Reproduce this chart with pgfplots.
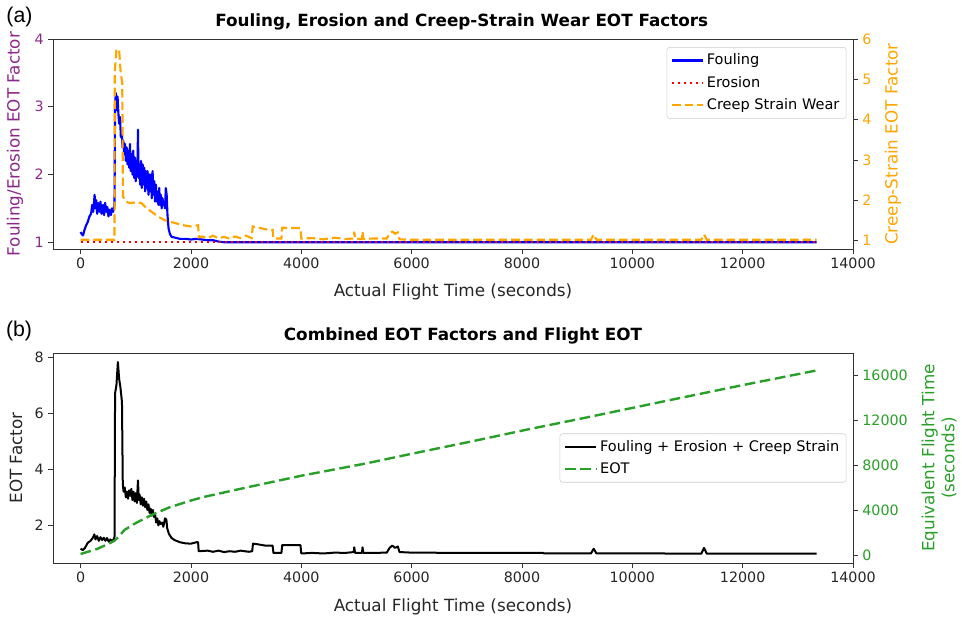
\documentclass[border=0pt]{standalone}
\usepackage{pgfplots}
\pgfplotsset{compat=1.18}
\usepackage{fontspec}
\setmainfont{DejaVu Sans}
\newfontfamily\panelfont{Liberation Sans}
\definecolor{mplorange}{HTML}{FFA500}
\definecolor{fepurple}{RGB}{140,40,140}
\definecolor{eotgreen}{RGB}{40,160,40}
\definecolor{mplblue}{HTML}{0000FF}
\definecolor{mplred}{HTML}{FF0000}

\pgfplotsset{
  twinbase/.style={
    scale only axis, width=600pt, height=157.5pt,
    xmin=-500, xmax=14000,
    scaled x ticks=false, scaled y ticks=false,
    tick align=outside, major tick length=3.5pt,
    /pgf/number format/assume math mode=true,
    /pgf/number format/1000 sep={},
    tick label style={font=\fontsize{10.7}{12}\selectfont, color=black!85},
    label style={font=\fontsize{12.6}{15}\selectfont, color=black!85},
    title style={font=\fontsize{12.6}{15}\selectfont\bfseries, anchor=center, yshift=0pt},
    axis line style={black!80, line width=0.6pt},
    every tick/.style={black!80, line width=0.6pt},
    legend cell align=left,
    legend image code/.code={\draw[##1] (0cm,0cm) -- (0.82cm,0cm);},
  },
}

\begin{document}
\begin{tikzpicture}
\useasboundingbox (0,0) rectangle (721.5pt,-464.25pt);

% ---------------- Panel (a) ----------------
\begin{axis}[twinbase, at={(39.75pt,-29.25pt)}, anchor=north west,
  ymin=0.9, ymax=4.0, ytick={1,2,3,4},
  xtick={0,2000,...,14000},
  xtick pos=left, ytick pos=left,
  xlabel={Actual Flight Time (seconds)},
  xlabel style={at={(axis description cs:0.5,-0.2048)}, anchor=center},
  ylabel={Fouling/Erosion EOT Factor},
  ylabel style={at={(axis description cs:-0.0475,0.5)}, anchor=center, color=fepurple},
  yticklabel style={color=fepurple},
  title={Fouling, Erosion and Creep-Strain Wear EOT Factors},
  title style={at={(axis description cs:0.511,1.043)}},
]
\addplot[mplblue, line width=1.6pt, line join=round] coordinates {
(0,1.15) (20,1.12) (45,1.10) (70,1.18) (100,1.25) (130,1.30) (160,1.38) (190,1.42)
(210,1.55) (230,1.45) (254,1.70) (270,1.50) (284,1.62) (300,1.42) (320,1.58) (344,1.45)
(360,1.60) (380,1.42) (405,1.55) (425,1.40) (445,1.58) (465,1.45) (485,1.52) (505,1.38)
(526,1.48) (550,1.40) (570,1.50) (590,1.45) (605,1.50) (615,1.55) (625,3.05) (640,3.20)
(655,2.95) (670,3.15) (685,2.90) (700,2.75) (715,2.85) (730,2.55) (745,2.65) (760,2.40)
(775,2.50) (790,2.30) (805,2.45) (820,2.20) (835,2.40) (850,2.15) (865,2.35) (880,2.10)
(895,2.45) (910,2.05) (925,2.30) (940,2.00) (955,2.35) (970,1.95) (985,2.25) (1000,1.90)
(1015,2.20) (1030,2.00) (1040,2.66) (1050,1.95) (1065,2.15) (1080,1.85) (1095,2.20) (1110,1.80)
(1125,2.15) (1140,1.85) (1155,2.10) (1170,1.75) (1185,2.05) (1200,1.80) (1215,2.05) (1230,1.70)
(1245,2.00) (1260,1.75) (1275,2.00) (1290,1.65) (1305,2.05) (1320,1.70) (1335,1.90) (1350,1.60)
(1365,1.85) (1380,1.60) (1395,1.75) (1410,1.55) (1425,1.80) (1440,1.55) (1455,1.70) (1470,1.50)
(1485,1.65) (1500,1.55) (1515,1.60) (1530,1.50) (1545,1.80) (1560,1.70) (1575,1.40) (1595,1.20)
(1620,1.12) (1650,1.08) (1700,1.07) (1750,1.06) (1800,1.05) (1900,1.05) (2000,1.04) (2100,1.05)
(2200,1.04) (2300,1.03) (2400,1.03) (2500,1.01) (2600,1.00) (13340,1.00)
};
\addplot[mplred, line width=1.5pt, dash pattern=on 1.5pt off 3pt] coordinates {
(0,1.0) (13340,1.0)
};
\end{axis}

\begin{axis}[twinbase, at={(39.75pt,-29.25pt)}, anchor=north west,
  axis x line=none, axis y line*=right,
  ymin=0.79, ymax=6, ytick={1,2,3,4,5,6},
  ylabel={Creep-Strain EOT Factor},
  ylabel style={at={(axis description cs:1.05,0.5)}, anchor=center, color=mplorange},
  yticklabel style={color=mplorange},
  legend style={at={(1,1)}, anchor=north east, xshift=-5pt, yshift=-6pt,
    draw=black!20, rounded corners=2pt, fill=white, fill opacity=0.8, text opacity=1,
    font=\fontsize{10.9}{12}\selectfont, row sep=3pt, inner sep=3pt},
]
\addlegendimage{mplblue, line width=1.6pt}
\addlegendentry{Fouling}
\addlegendimage{mplred, line width=1.5pt, dash pattern=on 1.5pt off 3pt}
\addlegendentry{Erosion}
\addplot[mplorange, line width=1.6pt, dash pattern=on 6.5pt off 3pt] coordinates {
(0,1.02) (615,1.02) (620,5.2) (650,5.75) (700,5.7) (725,5.2) (755,4.9) (768,2.1)
(800,2.0) (850,1.95) (900,1.93) (1000,1.95) (1100,1.93) (1200,1.80) (1300,1.70) (1400,1.60)
(1500,1.52) (1600,1.47) (1700,1.44) (1800,1.40) (1900,1.37) (2000,1.35) (2130,1.38) (2145,1.08)
(2200,1.10) (2300,1.06) (2400,1.12) (2500,1.06) (2600,1.09) (2700,1.05) (2800,1.10) (2900,1.06)
(3000,1.12) (3100,1.06) (3120,1.35) (3200,1.33) (3350,1.28) (3480,1.27) (3495,1.05) (3640,1.05)
(3655,1.32) (3800,1.31) (3985,1.31) (4000,1.05) (4200,1.06) (4400,1.03) (4600,1.07) (4800,1.04)
(4950,1.05) (4960,1.22) (4975,1.04) (5100,1.04) (5110,1.22) (5125,1.04) (5300,1.05) (5550,1.05)
(5600,1.18) (5650,1.22) (5700,1.17) (5750,1.20) (5780,1.03) (6000,1.02) (8000,1.02) (9250,1.02)
(9300,1.15) (9350,1.02) (11250,1.02) (11300,1.15) (11350,1.02) (13340,1.02)
};
\addlegendentry{Creep Strain Wear}
\end{axis}

% ---------------- Panel (b) ----------------
\begin{axis}[twinbase, at={(39.75pt,-264.75pt)}, anchor=north west,
  ymin=0.66, ymax=8.14, ytick={2,4,6,8},
  xtick={0,2000,...,14000},
  xtick pos=left, ytick pos=left,
  xlabel={Actual Flight Time (seconds)},
  xlabel style={at={(axis description cs:0.5,-0.2095)}, anchor=center},
  ylabel={EOT Factor},
  ylabel style={at={(axis description cs:-0.04625,0.5)}, anchor=center},
  title={Combined EOT Factors and Flight EOT},
  title style={at={(axis description cs:0.5125,1.043)}},
]
\addplot[black, line width=1.5pt, line join=round] coordinates {
(0,1.17) (40,1.12) (80,1.20) (130,1.38) (180,1.45) (220,1.55) (250,1.68) (270,1.50)
(300,1.62) (330,1.45) (360,1.58) (390,1.48) (420,1.56) (450,1.45) (480,1.55) (510,1.42)
(540,1.50) (570,1.45) (600,1.50) (615,1.60) (625,6.70) (650,7.00) (676,7.82) (700,7.20)
(720,6.95) (750,6.40) (765,3.45) (780,3.20) (800,3.35) (820,3.00) (840,3.20) (860,2.95)
(880,3.25) (900,3.05) (920,3.30) (940,2.90) (960,3.20) (980,2.85) (1000,3.15) (1020,2.80)
(1040,3.60) (1055,2.90) (1070,3.10) (1090,2.75) (1110,3.00) (1130,2.70) (1150,2.95) (1170,2.65)
(1190,2.85) (1210,2.55) (1230,2.75) (1250,2.45) (1270,2.60) (1290,2.35) (1310,2.55) (1330,2.30)
(1350,2.40) (1370,2.10) (1390,2.25) (1410,2.00) (1430,2.15) (1450,2.05) (1480,2.10) (1500,1.95)
(1530,2.25) (1555,2.20) (1570,1.90) (1600,1.70) (1650,1.55) (1700,1.48) (1800,1.40) (1900,1.36)
(2000,1.35) (2100,1.40) (2130,1.40) (2140,1.08) (2300,1.10) (2400,1.06) (2500,1.10) (2600,1.05)
(2700,1.08) (2800,1.06) (2900,1.10) (3050,1.06) (3110,1.08) (3125,1.35) (3200,1.33) (3350,1.28)
(3480,1.28) (3495,1.02) (3640,1.02) (3655,1.30) (3800,1.30) (3985,1.30) (4000,1.00) (4200,1.02)
(4400,1.00) (4600,1.03) (4800,1.02) (4950,1.05) (4960,1.22) (4975,1.02) (5100,1.02) (5110,1.22)
(5125,1.02) (5300,1.02) (5550,1.03) (5600,1.20) (5650,1.28) (5700,1.20) (5750,1.25) (5780,1.05)
(6000,1.03) (7000,1.02) (8380,1.02) (8400,1.00) (9250,1.00) (9300,1.17) (9350,1.00) (10500,1.00)
(11250,0.99) (11300,1.20) (11350,0.99) (13340,0.99)
};
\end{axis}

\begin{axis}[twinbase, at={(39.75pt,-264.75pt)}, anchor=north west,
  axis x line=none, axis y line*=right,
  ymin=-650, ymax=18000, ytick={0,4000,8000,12000,16000},
  ylabel={Equivalent Flight Time\\(seconds)},
  ylabel style={at={(axis description cs:1.1075,0.5)}, anchor=center, color=eotgreen, align=center},
  yticklabel style={color=eotgreen},
  legend style={at={(1,0.5)}, anchor=east, xshift=-5pt,
    draw=black!20, rounded corners=2pt, fill=white, fill opacity=0.8, text opacity=1,
    font=\fontsize{10.9}{12}\selectfont, row sep=3pt, inner sep=3pt},
]
\addlegendimage{black, line width=1.5pt}
\addlegendentry{Fouling + Erosion + Creep Strain}
\addplot[eotgreen, line width=1.8pt, dash pattern=on 8pt off 3.5pt] coordinates {
(0,150) (300,600) (526,1100) (620,1350) (700,1750) (800,2300) (1000,2900) (1281,3600)
(1614,4300) (2000,4900) (2218,5200) (3000,6050) (3427,6500) (4000,7100) (5180,8200)
(6000,9050) (7234,10300) (8140,11250) (9047,12150) (10860,14000) (12000,15150) (13338,16450)
};
\addlegendentry{EOT}
\end{axis}

\node[font=\panelfont\fontsize{16}{18}\selectfont, anchor=center] at (14.6pt,-12.4pt) {(a)};
\node[font=\panelfont\fontsize{16}{18}\selectfont, anchor=center] at (14.3pt,-248.3pt) {(b)};
\end{tikzpicture}
\end{document}
